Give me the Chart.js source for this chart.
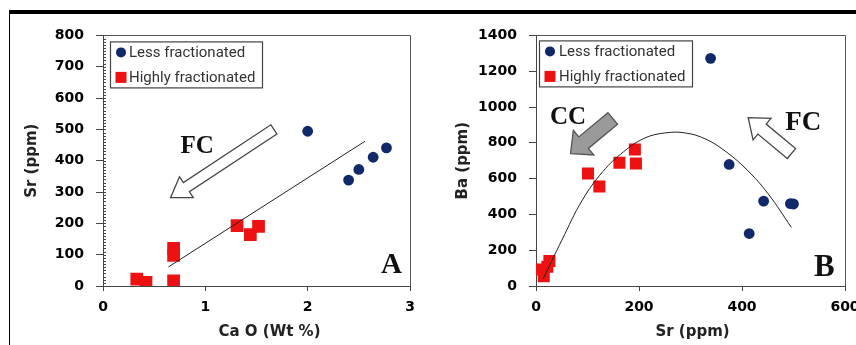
<!DOCTYPE html>
<html>
<head>
<meta charset="utf-8">
<script src="https://cdn.jsdelivr.net/npm/chart.js@4"></script>
<style>
  body { margin: 0; background: #fff; }
  #page { position: relative; width: 856px; height: 345px; overflow: hidden; background: #fff; }
  #frame { position: absolute; left: 9px; top: 10px; width: 860px; height: 340px;
           border-top: 4px solid #000; border-left: 1px solid #000; }
  .panel { position: absolute; top: 15px; }
  #chartA { left: 10px; }
  #chartB { left: 430px; }
</style>
</head>
<body>
<div id="page">
  <div id="frame"></div>
  <canvas id="chartA" class="panel" width="420" height="330"></canvas>
  <canvas id="chartB" class="panel" width="426" height="330"></canvas>
</div>
<script>
// --- Data: Sr vs CaO ---
const caoLess = [2.0, 2.4, 2.5, 2.64, 2.77];
const srLessA = [494, 338, 372, 411, 441];
const caoHigh = [0.33, 0.42, 0.69, 0.69, 0.69, 1.31, 1.44, 1.52];
const srHighA = [22, 12, 120, 98, 16, 193, 164, 190];
const fitCao = [0.64, 2.56];
const fitSrA = [61, 462];

// --- Data: Ba vs Sr ---
const srLessB = [339, 375, 442, 414, 494, 500];
const baLess = [1272, 679, 474, 293, 460, 458];
const srHighB = [10, 15, 22, 26, 101, 123, 162, 192, 194];
const baHigh = [92, 55, 108, 140, 629, 556, 688, 762, 684];
const fitSrB = [14, 50, 90, 130, 170, 210, 250, 290, 330, 370, 410, 450, 496];
const fitBa = [40, 255, 480, 640, 750, 825, 855, 855, 820, 748, 648, 518, 327];

const seriesNames = ["Less fractionated", "Highly fractionated"];
const navy = "#10296a";
const red = "#ee1111";

const zip = (xs, ys) => xs.map((x, i) => ({ x, y: ys[i] }));

const tickFont = { family: "DejaVu Sans", weight: "bold", size: 14 };

function drawArrow(ctx, x1, y1, x2, y2, a) {
  const len = Math.hypot(x2 - x1, y2 - y1);
  const s = a.shaft / 2, h = a.head / 2, b = len - a.headLen;
  ctx.save();
  ctx.translate(x1, y1);
  ctx.rotate(Math.atan2(y2 - y1, x2 - x1));
  ctx.beginPath();
  ctx.moveTo(0, -s); ctx.lineTo(b, -s); ctx.lineTo(b, -h); ctx.lineTo(len, 0);
  ctx.lineTo(b, h); ctx.lineTo(b, s); ctx.lineTo(0, s); ctx.closePath();
  ctx.fillStyle = a.fill;
  ctx.fill();
  ctx.lineWidth = 1.3;
  ctx.strokeStyle = a.stroke;
  ctx.stroke();
  ctx.restore();
}

// frame, legend box, arrows, panel letters and axis titles
const overlay = {
  id: "overlay",
  afterDraw(chart, args, o) {
    const { ctx, chartArea: ca, scales: { x, y } } = chart;
    ctx.save();

    ctx.strokeStyle = "#555";
    ctx.lineWidth = 1;
    ctx.beginPath();
    ctx.moveTo(ca.left, Math.round(ca.top) + 0.5);
    ctx.lineTo(Math.round(ca.right) + 0.5, Math.round(ca.top) + 0.5);
    ctx.lineTo(Math.round(ca.right) + 0.5, ca.bottom);
    ctx.stroke();

    if (o.minorStep) {
      ctx.strokeStyle = "#444";
      ctx.beginPath();
      for (let v = y.min; v <= y.max; v += o.minorStep) {
        const py = Math.round(y.getPixelForValue(v)) + 0.5;
        ctx.moveTo(ca.left, py);
        ctx.lineTo(ca.left + 3, py);
      }
      ctx.stroke();
    }

    o.arrows.forEach(a => {
      drawArrow(ctx, x.getPixelForValue(a.from[0]), y.getPixelForValue(a.from[1]),
                x.getPixelForValue(a.to[0]), y.getPixelForValue(a.to[1]), a);
    });

    ctx.fillStyle = "#111";
    ctx.textAlign = "center";
    ctx.textBaseline = "middle";
    o.labels.forEach(t => {
      ctx.font = t.font;
      ctx.fillText(t.text, x.getPixelForValue(t.at[0]), y.getPixelForValue(t.at[1]));
    });

    // axis titles
    ctx.font = "bold 15px 'DejaVu Sans'";
    ctx.fillStyle = "#222";
    ctx.fillText(o.xTitle, (ca.left + ca.right) / 2 + o.xTitleDx, ca.bottom + 46);
    ctx.save();
    ctx.translate(o.yTitleX, (ca.top + ca.bottom) / 2);
    ctx.rotate(-Math.PI / 2);
    ctx.fillText(o.yTitle, 0, 0);
    ctx.restore();

    // legend
    const L = o.legend;
    const bx = ca.left + L.ox, by = ca.top + L.oy;
    ctx.fillStyle = "#fff";
    ctx.fillRect(bx, by, L.w, L.h);
    ctx.strokeStyle = "#444";
    ctx.lineWidth = 1.2;
    ctx.strokeRect(bx + 0.5, by + 0.5, L.w, L.h);
    ctx.font = "15px Roboto";
    ctx.textAlign = "left";
    chart.data.datasets.filter(d => d.label).forEach((d, i) => {
      const cy = by + 11 + i * 25;
      ctx.fillStyle = d.backgroundColor;
      if (d.pointStyle === "rect") {
        ctx.fillRect(bx + L.mx - 5.5, cy - 5.5, 11, 11);
      } else {
        ctx.beginPath();
        ctx.arc(bx + L.mx, cy, 5, 0, Math.PI * 2);
        ctx.fill();
      }
      ctx.fillStyle = "#333";
      ctx.fillText(d.label, bx + L.tx, cy + 1);
    });
    ctx.restore();
  }
};

function axes(xMax, xStep, yMax, yStep, axisWidth) {
  const ticks = step => ({ stepSize: step, font: tickFont, color: "#000", callback: v => String(v) });
  return {
    x: {
      type: "linear", min: 0, max: xMax,
      ticks: Object.assign(ticks(xStep), { padding: 8 }),
      grid: { drawOnChartArea: false, tickLength: 5, color: "#444" },
      border: { color: "#444" },
      afterFit: s => { s.height = 59; s.paddingLeft = 0; s.paddingRight = 0; }
    },
    y: {
      type: "linear", min: 0, max: yMax,
      ticks: Object.assign(ticks(yStep), { padding: 12 }),
      grid: { drawOnChartArea: false, tickLength: 7, color: "#444" },
      border: { color: "#444" },
      afterFit: s => { s.width = axisWidth; }
    }
  };
}

function datasets(lessX, lessY, highX, highY, fitX, fitY, sq, tension) {
  return [
    { type: "line", data: zip(fitX, fitY), borderColor: "#222", borderWidth: 1,
      pointRadius: 0, tension: tension, fill: false },
    { label: seriesNames[0], data: zip(lessX, lessY), backgroundColor: navy,
      borderWidth: 0, pointStyle: "circle", pointRadius: 5.4 },
    { label: seriesNames[1], data: zip(highX, highY), backgroundColor: red,
      borderWidth: 0, pointStyle: "rect", pointRadius: sq }
  ];
}

const common = {
  responsive: false,
  animation: false,
  events: []
};

new Chart(document.getElementById("chartA"), {
  type: "scatter",
  data: { datasets: datasets(caoLess, srLessA, caoHigh, srHighA, fitCao, fitSrA, 9, 0) },
  options: Object.assign({}, common, {
    layout: { padding: { top: 18, right: 20, left: 0, bottom: 0 } },
    scales: axes(3, 1, 800, 100, 93),
    plugins: {
      legend: { display: false },
      tooltip: { enabled: false },
      overlay: {
        minorStep: 10,
        arrows: [{ from: [1.67, 500], to: [0.66, 282], shaft: 11, head: 25, headLen: 19, fill: "#fff", stroke: "#444" }],
        labels: [
          { text: "FC", at: [0.92, 446], font: "bold 25px 'Liberation Serif'" },
          { text: "A", at: [2.82, 66], font: "bold 29px 'Liberation Serif'" }
        ],
        xTitle: "Ca O (Wt %)", xTitleDx: 13,
        yTitle: "Sr (ppm)", yTitleX: 22,
        legend: { ox: 7, oy: 6, w: 152, h: 46, mx: 11, tx: 19 }
      }
    }
  }),
  plugins: [overlay]
});

new Chart(document.getElementById("chartB"), {
  type: "scatter",
  data: { datasets: datasets(srLessB, baLess, srHighB, baHigh, fitSrB, fitBa, 8.5, 0.4) },
  options: Object.assign({}, common, {
    layout: { padding: { top: 17, right: 11, left: 0, bottom: 0 } },
    scales: axes(600, 200, 1400, 200, 106),
    plugins: {
      legend: { display: false },
      tooltip: { enabled: false },
      overlay: {
        arrows: [
          { from: [149, 936], to: [67, 740], shaft: 15, head: 32, headLen: 17, fill: "#9a9a9a", stroke: "#555" },
          { from: [496, 740], to: [412, 941], shaft: 13, head: 28, headLen: 18, fill: "#fff", stroke: "#444" }
        ],
        labels: [
          { text: "CC", at: [62, 941], font: "bold 25px 'Liberation Serif'" },
          { text: "FC", at: [519, 908], font: "bold 27px 'Liberation Serif'" },
          { text: "B", at: [560, 99], font: "bold 31px 'Liberation Serif'" }
        ],
        xTitle: "Sr (ppm)", xTitleDx: 2,
        yTitle: "Ba (ppm)", yTitleX: 33,
        legend: { ox: 3, oy: 5, w: 153, h: 46, mx: 11, tx: 20 }
      }
    }
  }),
  plugins: [overlay]
});
</script>
</body>
</html>
